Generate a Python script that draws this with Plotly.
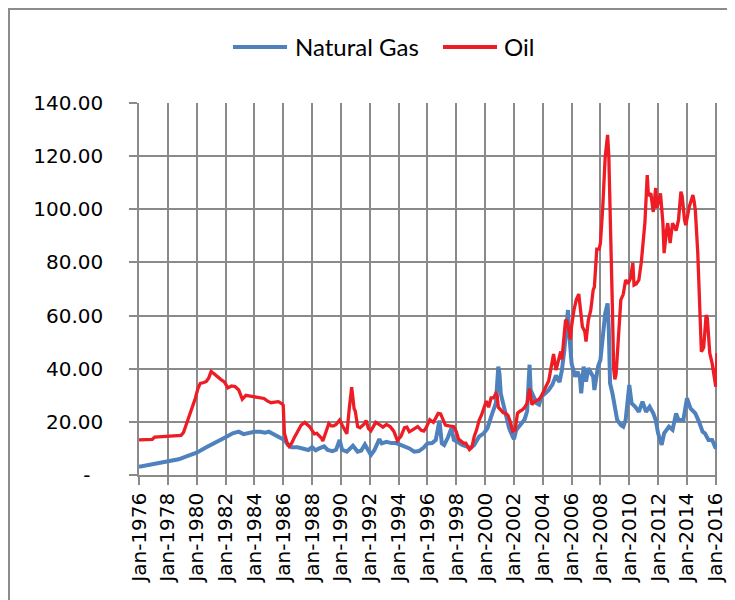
import plotly.graph_objects as go

# ---------------- data ----------------
gas_dates = [
    "1976-01", "1976-09", "1977-03", "1977-09", "1978-02", "1978-10", "1979-04", "1980-01",
    "1980-09", "1981-04", "1982-01", "1982-07", "1982-12", "1983-04", "1983-08", "1984-01",
    "1984-06", "1984-10", "1985-01", "1985-06", "1985-10", "1986-02", "1986-05", "1986-08",
    "1987-01", "1987-05", "1987-10", "1988-01", "1988-04", "1988-07", "1988-11", "1989-02",
    "1989-06", "1989-09", "1989-12", "1990-02", "1990-06", "1990-11", "1991-03", "1991-06",
    "1991-09", "1992-02", "1992-05", "1992-09", "1992-11", "1993-03", "1993-07", "1993-11",
    "1994-02", "1994-06", "1994-10", "1995-02", "1995-06", "1995-10", "1996-01", "1996-05",
    "1996-08", "1996-11", "1997-01", "1997-03", "1997-06", "1997-09", "1997-11", "1998-02",
    "1998-06", "1998-10", "1999-01", "1999-04", "1999-08", "1999-12", "2000-03", "2000-07",
    "2000-10", "2000-12", "2001-01", "2001-02", "2001-04", "2001-06", "2001-09", "2001-12",
    "2002-01", "2002-03", "2002-07", "2002-10", "2002-12", "2003-02", "2003-03", "2003-05",
    "2003-08", "2003-10", "2003-12", "2004-03", "2004-06", "2004-09", "2004-12", "2005-03",
    "2005-05", "2005-07", "2005-08", "2005-10", "2005-11", "2006-01", "2006-04", "2006-06",
    "2006-08", "2006-09", "2006-11", "2007-01", "2007-03", "2007-05", "2007-07", "2007-08",
    "2007-11", "2008-01", "2008-03", "2008-05", "2008-07", "2008-08", "2008-09", "2008-11",
    "2009-03", "2009-06", "2009-08", "2009-10", "2010-01", "2010-03", "2010-06", "2010-09",
    "2010-12", "2011-03", "2011-06", "2011-09", "2011-11", "2012-01", "2012-04", "2012-06",
    "2012-10", "2013-01", "2013-04", "2013-06", "2013-10", "2014-01", "2014-04", "2014-08",
    "2014-11", "2015-02", "2015-04", "2015-07", "2015-10", "2016-01", "2016-02",
]
gas_values = [
    3.1, 3.8, 4.4, 5.0, 5.3, 5.9, 6.9, 8.4,
    10.4, 11.9, 14.2, 15.7, 16.3, 15.4, 15.9, 16.3,
    16.3, 15.9, 16.3, 15.0, 14.2, 13.2, 11.3, 10.4,
    10.4, 10.0, 9.4, 10.5, 9.3, 10.0, 10.8, 9.4,
    9.0, 9.5, 13.2, 9.5, 8.8, 11.0, 8.8, 9.2,
    11.5, 7.5, 9.4, 13.5, 11.9, 12.5, 12.0, 12.0,
    11.5, 10.7, 10.0, 8.8, 9.0, 10.3, 11.9, 12.0,
    13.2, 20.5, 11.9, 11.3, 14.0, 17.6, 13.2, 12.5,
    11.3, 10.7, 10.2, 11.3, 14.4, 15.7, 17.6, 23.2,
    27.0, 40.8, 38.0, 30.7, 27.0, 23.2, 17.6, 14.4,
    13.5, 16.9, 19.5, 21.0, 24.0, 41.5, 32.0, 30.0,
    27.0, 26.5, 29.5, 30.7, 32.0, 34.0, 37.5, 35.0,
    39.5, 47.0, 52.0, 62.1, 53.3, 42.0, 37.0, 38.9,
    36.5, 30.7, 40.8, 35.1, 40.2, 38.3, 37.0, 32.0,
    40.8, 43.3, 53.3, 60.8, 64.6, 54.6, 34.5, 30.7,
    20.7, 18.8, 18.2, 20.7, 33.9, 27.0, 25.7, 23.8,
    27.6, 23.8, 25.7, 23.2, 20.7, 15.7, 11.3, 15.7,
    18.2, 17.0, 23.2, 20.7, 20.7, 28.9, 25.1, 23.2,
    20.1, 16.3, 15.7, 13.2, 13.2, 10.0, 11.9,
]

oil_dates = [
    "1976-01", "1976-06", "1976-12", "1977-02", "1977-08", "1978-01", "1978-08", "1978-12",
    "1979-02", "1979-04", "1979-06", "1979-08", "1979-10", "1979-12", "1980-02", "1980-04",
    "1980-07", "1980-09", "1980-11", "1981-01", "1981-03", "1981-06", "1981-09", "1981-12",
    "1982-03", "1982-06", "1982-09", "1982-12", "1983-03", "1983-06", "1983-09", "1983-12",
    "1984-03", "1984-06", "1984-09", "1984-12", "1985-03", "1985-06", "1985-09", "1985-12",
    "1986-01", "1986-02", "1986-04", "1986-06", "1986-08", "1986-10", "1986-12", "1987-02",
    "1987-04", "1987-07", "1987-09", "1987-11", "1988-01", "1988-03", "1988-05", "1988-07",
    "1988-09", "1988-10", "1988-12", "1989-03", "1989-05", "1989-07", "1989-09", "1989-11",
    "1989-12", "1990-02", "1990-04", "1990-06", "1990-08", "1990-10", "1990-11", "1990-12",
    "1991-01", "1991-03", "1991-05", "1991-08", "1991-10", "1991-12", "1992-02", "1992-04",
    "1992-06", "1992-09", "1992-12", "1993-03", "1993-06", "1993-09", "1993-12", "1994-03",
    "1994-06", "1994-08", "1994-10", "1994-12", "1995-03", "1995-05", "1995-08", "1995-10",
    "1995-12", "1996-03", "1996-06", "1996-08", "1996-10", "1996-12", "1997-02", "1997-04",
    "1997-07", "1997-09", "1997-11", "1998-01", "1998-03", "1998-05", "1998-07", "1998-09",
    "1998-12", "1999-02", "1999-04", "1999-06", "1999-08", "1999-10", "1999-12", "2000-02",
    "2000-04", "2000-06", "2000-08", "2000-10", "2000-11", "2000-12", "2001-02", "2001-04",
    "2001-06", "2001-08", "2001-10", "2001-12", "2002-02", "2002-04", "2002-06", "2002-08",
    "2002-10", "2002-12", "2003-02", "2003-04", "2003-06", "2003-08", "2003-10", "2003-12",
    "2004-02", "2004-04", "2004-06", "2004-08", "2004-10", "2004-12", "2005-02", "2005-04",
    "2005-05", "2005-07", "2005-08", "2005-09", "2005-10", "2005-11", "2005-12", "2006-01",
    "2006-03", "2006-05", "2006-07", "2006-08", "2006-09", "2006-10", "2006-12", "2007-01",
    "2007-03", "2007-05", "2007-07", "2007-08", "2007-10", "2007-12", "2008-01", "2008-03",
    "2008-05", "2008-07", "2008-08", "2008-09", "2008-11", "2008-12", "2009-01", "2009-02",
    "2009-04", "2009-06", "2009-08", "2009-10", "2009-12", "2010-02", "2010-04", "2010-05",
    "2010-07", "2010-09", "2010-11", "2010-12", "2011-02", "2011-04", "2011-05", "2011-07",
    "2011-09", "2011-11", "2011-12", "2012-02", "2012-03", "2012-05", "2012-06", "2012-08",
    "2012-09", "2012-11", "2013-01", "2013-04", "2013-06", "2013-08", "2013-09", "2013-11",
    "2013-12", "2014-03", "2014-06", "2014-07", "2014-08", "2014-10", "2014-12", "2015-01",
    "2015-03", "2015-05", "2015-06", "2015-08", "2015-10", "2015-12", "2016-01", "2016-02",
]
oil_values = [
    13.2, 13.3, 13.4, 14.3, 14.4, 14.5, 14.6, 14.9,
    16.0, 18.5, 21.5, 24.0, 26.0, 29.0, 32.5, 34.5,
    34.8, 35.2, 36.5, 39.0, 38.3, 37.0, 36.0, 35.0,
    32.8, 33.5, 33.3, 32.0, 28.5, 30.0, 29.8, 29.4,
    29.5, 29.2, 28.8, 27.8, 27.2, 27.4, 27.6, 26.8,
    26.3, 15.7, 12.5, 10.8, 11.9, 13.8, 15.5, 17.5,
    18.8, 19.8, 19.0, 18.2, 16.8, 15.5, 15.7, 14.8,
    13.8, 12.8, 15.5, 19.4, 18.5, 18.5, 19.0, 20.0,
    20.7, 18.8, 17.0, 15.5, 25.0, 33.0, 29.0, 25.0,
    24.0, 18.2, 17.8, 19.0, 20.5, 17.5, 16.6, 18.5,
    19.8, 19.0, 18.0, 19.0, 18.2, 16.5, 13.0, 14.5,
    17.8, 18.0, 16.3, 16.8, 17.5, 18.2, 16.8, 16.5,
    17.8, 20.8, 19.8, 21.5, 23.2, 23.0, 21.0, 18.8,
    18.5, 18.2, 18.2, 16.3, 13.5, 12.8, 12.0, 12.0,
    9.6, 10.5, 14.5, 17.0, 20.5, 22.5, 25.0, 27.8,
    25.5, 29.0, 29.0, 30.7, 30.0, 25.5, 24.5, 23.5,
    23.2, 22.5, 20.0, 16.5, 17.0, 23.2, 24.0, 24.5,
    25.5, 27.0, 32.5, 26.5, 27.5, 28.0, 28.5, 29.8,
    32.0, 33.5, 35.5, 40.5, 45.5, 39.5, 43.0, 46.5,
    43.5, 52.0, 58.4, 58.0, 55.0, 54.0, 51.0, 56.0,
    62.0, 66.0, 68.1, 63.3, 58.0, 55.8, 54.0, 50.2,
    58.3, 62.0, 69.6, 70.8, 85.0, 85.0, 87.3, 101.0,
    119.8, 128.0, 119.8, 94.8, 62.0, 40.0, 36.0, 38.0,
    50.0, 65.9, 68.0, 73.4, 72.0, 74.0, 79.8, 71.5,
    72.0, 73.4, 80.0, 85.9, 95.0, 112.9, 105.0, 106.0,
    99.0, 108.0, 100.5, 104.0, 106.0, 95.0, 83.5, 92.0,
    94.8, 87.3, 94.8, 92.0, 96.0, 106.6, 105.0, 96.0,
    94.0, 101.0, 105.4, 103.0, 99.7, 84.0, 60.0, 46.4,
    48.0, 60.2, 59.0, 45.9, 42.0, 37.0, 33.2, 45.8,
]

tick_years = list(range(1976, 2017, 2))
y_ticks = [0, 20, 40, 60, 80, 100, 120, 140]
y_tick_text = ["-\u00a0\u00a0", "20.00", "40.00", "60.00", "80.00", "100.00", "120.00", "140.00"]
series_names = ["Natural Gas", "Oil"]
series_colors = ["#4F81BD", "#EE1D25"]

# ---------------- layout geometry ----------------
# The page body has an 8px margin, so the figure is drawn at (8, 8) in the window.
OFF = 8
W, H = 735 - OFF, 600 - OFF
PLOT_L, PLOT_R, PLOT_T, PLOT_B = 139, 717, 103, 475   # target window pixels
ML = PLOT_L - OFF
MR = W - (PLOT_R - OFF)
MT = PLOT_T - OFF
MB = H - (PLOT_B - OFF)
PW, PH = W - ML - MR, H - MT - MB


def px_x(x):
    return (x - OFF - ML) / PW


def px_y(y):
    return (H - MB - (y - OFF)) / PH


# ---------------- figure ----------------
fig = go.Figure()
fig.add_trace(go.Scatter(
    x=gas_dates, y=gas_values, name=series_names[0], mode="lines",
    line=dict(color=series_colors[0], width=4),
))
fig.add_trace(go.Scatter(
    x=oil_dates, y=oil_values, name=series_names[1], mode="lines",
    line=dict(color=series_colors[1], width=3.3),
))

grid = "#8A8A8A"
tick_font = dict(family="DejaVu Sans", size=20, color="#000000")

shapes = [dict(
    type="rect", xref="paper", yref="paper",
    x0=px_x(9), x1=px_x(780), y0=px_y(680), y1=px_y(9),
    line=dict(color="#8C8C8C", width=2), fillcolor="rgba(0,0,0,0)", layer="below",
)]
annotations = []
# legend drawn by hand (Excel-like long line samples)
legend_items = [(233, 287, 293), (443, 497, 502)]
for (lx0, lx1, tx), name, col in zip(legend_items, series_names, series_colors):
    shapes.append(dict(
        type="line", xref="paper", yref="paper",
        x0=px_x(lx0), x1=px_x(lx1), y0=px_y(47), y1=px_y(47),
        line=dict(color=col, width=4),
    ))
    annotations.append(dict(
        xref="paper", yref="paper", x=px_x(tx), y=px_y(47),
        xanchor="left", yanchor="middle", showarrow=False, text=name,
        font=dict(family="Lato", size=24, color="#000000"),
    ))

fig.update_layout(
    width=W, height=H,
    margin=dict(l=ML, r=MR, t=MT, b=MB, autoexpand=False),
    paper_bgcolor="white", plot_bgcolor="white",
    showlegend=False,
    xaxis=dict(
        type="date",
        range=["1976-01-01", "2016-02-01"],
        tickvals=[f"{y}-01-01" for y in tick_years],
        ticktext=[f"Jan-{y}" for y in tick_years],
        tickangle=-90,
        tickfont=tick_font,
        ticks="outside", ticklen=8, tickwidth=1.5, tickcolor=grid,
        showgrid=True, gridcolor=grid, gridwidth=1.5,
        showline=True, linecolor=grid, linewidth=1.5,
        zeroline=False, automargin=False,
    ),
    yaxis=dict(
        range=[0, 140],
        tickvals=y_ticks, ticktext=y_tick_text,
        tickfont=tick_font,
        ticks="outside", ticklen=8, tickwidth=1.5, tickcolor=grid,
        ticklabelstandoff=22,
        showgrid=True, gridcolor=grid, gridwidth=1.5,
        showline=True, linecolor=grid, linewidth=1.5,
        zeroline=False, automargin=False,
    ),
    shapes=shapes,
    annotations=annotations,
)

fig.write_html("out.html")
